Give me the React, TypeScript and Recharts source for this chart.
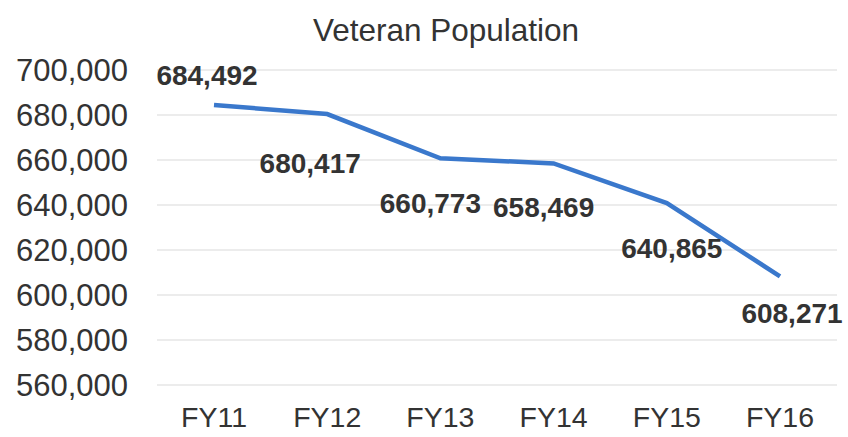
import React from 'react'
import { LineChart, Line, XAxis, YAxis, CartesianGrid, LabelList } from 'recharts'

const years = ['FY11', 'FY12', 'FY13', 'FY14', 'FY15', 'FY16']
const veterans = [684492, 680417, 660773, 658469, 640865, 608271]
const yTicks = [560000, 580000, 600000, 620000, 640000, 660000, 680000, 700000]

// label nudges relative to each point (baseline offset)
const labelDx = [-7, -17, -10, -10, 5, 12]
const labelDy = [-20, 59, 55, 54, 55, 47]

const font = '"Liberation Sans", Arial, sans-serif'
const textColor = '#333333'

const data = years.map((year, i) => ({ year, value: veterans[i] }))

const fmt = (v: number) => v.toLocaleString('en-US')

function ValueLabel(props: any) {
  const { x, y, value, index } = props
  return (
    <text
      x={x + labelDx[index]}
      y={y + labelDy[index]}
      textAnchor="middle"
      fontFamily={font}
      fontSize={28}
      fontWeight="bold"
      fill={textColor}
    >
      {fmt(value)}
    </text>
  )
}

export default function App() {
  return (
    <div style={{ position: 'absolute', left: 0, top: 0, width: 848, height: 437, background: '#fff' }}>
      <div
        style={{
          position: 'absolute',
          top: 15,
          left: 0,
          width: 892,
          textAlign: 'center',
          fontFamily: font,
          fontSize: 31.5,
          lineHeight: '31px',
          color: textColor,
        }}
      >
        Veteran Population
      </div>
      <LineChart width={848} height={437} data={data} margin={{ top: 70, right: 11, left: 0, bottom: 0 }}>
        <CartesianGrid vertical={false} stroke="#e6e6e6" strokeWidth={1.5} />
        <XAxis
          dataKey="year"
          axisLine={false}
          tickLine={false}
          tickSize={0}
          tickMargin={22}
          height={52}
          padding={{ left: 57, right: 57 }}
          interval={0}
          tick={{ fontFamily: font, fontSize: 28.5, fill: textColor }}
        />
        <YAxis
          domain={[560000, 700000]}
          ticks={yTicks}
          tickFormatter={fmt}
          axisLine={false}
          tickLine={false}
          tickSize={0}
          tickMargin={29}
          width={157}
          interval={0}
          tick={{ fontFamily: font, fontSize: 31, fill: textColor }}
        />
        <Line
          type="linear"
          dataKey="value"
          stroke="#3a78cc"
          strokeWidth={4.5}
          dot={false}
          isAnimationActive={false}
        >
          <LabelList dataKey="value" content={ValueLabel} />
        </Line>
      </LineChart>
    </div>
  )
}
